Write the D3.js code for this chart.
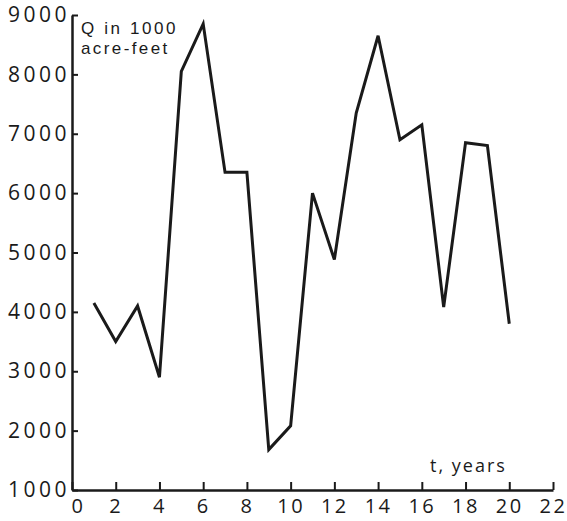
<!DOCTYPE html>
<html>
<head>
<meta charset="utf-8">
<script src="https://cdn.jsdelivr.net/npm/d3@7"></script>
<style>
  html, body { margin: 0; padding: 0; background: #fff; }
  svg { display: block; }
  text { font-family: "Open Sans", Roboto, sans-serif; fill: #1a1a1a; }
</style>
</head>
<body>
<svg id="chart" width="567" height="521"></svg>
<script>
const years = [1, 2, 3, 4, 5, 6, 7, 8, 9, 10, 11, 12, 13, 14, 15, 16, 17, 18, 19, 20];
const flows = [4150, 3500, 4100, 2900, 8050, 8850, 6350, 6350, 1680, 2080, 6000, 4880, 7350, 8650, 6900, 7150, 4080, 6850, 6800, 3800];
const xTicks = [0, 2, 4, 6, 8, 10, 12, 14, 16, 18, 20, 22];
const yTicks = [1000, 2000, 3000, 4000, 5000, 6000, 7000, 8000, 9000];
const yLabel = ["Q in 1000", "acre-feet"];
const xLabel = "t, years";

const svg = d3.select("#chart");
const mLeft = 72, mRight = 553, mTop = 15, mBottom = 490;

const x = d3.scaleLinear().domain([0, 22]).range([mLeft, mRight]);
const y = d3.scaleLinear().domain([1000, 9000]).range([mBottom, mTop]);

const ink = "#1a1a1a";

// y axis
const gy = svg.append("g")
  .attr("transform", `translate(${mLeft},0)`)
  .call(d3.axisLeft(y).tickValues(yTicks).tickFormat(d3.format("d"))
    .tickSizeInner(-6).tickSizeOuter(0).tickPadding(2));
gy.select(".domain").attr("stroke", ink).attr("stroke-width", 2.5);
gy.selectAll(".tick line").attr("stroke", ink).attr("stroke-width", 2);
gy.selectAll(".tick text").attr("font-size", 21).attr("letter-spacing", 3.5)
  .attr("fill", ink).style("font-family", "'Open Sans', Roboto, sans-serif");

// x axis
const gx = svg.append("g")
  .attr("transform", `translate(0,${mBottom})`)
  .call(d3.axisBottom(x).tickValues(xTicks).tickFormat(d3.format("d"))
    .tickSizeInner(-8).tickSizeOuter(0).tickPadding(9));
gx.select(".domain").attr("stroke", ink).attr("stroke-width", 2.5);
gx.selectAll(".tick line").attr("stroke", ink).attr("stroke-width", 2);
gx.selectAll(".tick text").attr("font-size", 20).attr("letter-spacing", 2.5)
  .attr("fill", ink).style("font-family", "'Open Sans', Roboto, sans-serif")
  .attr("dx", d => d === 0 ? 6 : 0);

// line
const line = d3.line().x((d, i) => x(years[i])).y(d => y(d));
svg.append("path")
  .datum(flows)
  .attr("d", line)
  .attr("fill", "none")
  .attr("stroke", ink)
  .attr("stroke-width", 3)
  .attr("stroke-linejoin", "miter");

// labels
svg.append("text").attr("x", 81).attr("y", 34)
  .attr("font-size", 17).attr("letter-spacing", 2.6)
  .style("font-family", "'Liberation Sans', Arial, sans-serif").text(yLabel[0]);
svg.append("text").attr("x", 81).attr("y", 54)
  .attr("font-size", 17).attr("letter-spacing", 2.4)
  .style("font-family", "'Liberation Sans', Arial, sans-serif").text(yLabel[1]);
svg.append("text").attr("x", 430).attr("y", 472)
  .attr("font-size", 18).attr("letter-spacing", 2).text(xLabel);
</script>
</body>
</html>
